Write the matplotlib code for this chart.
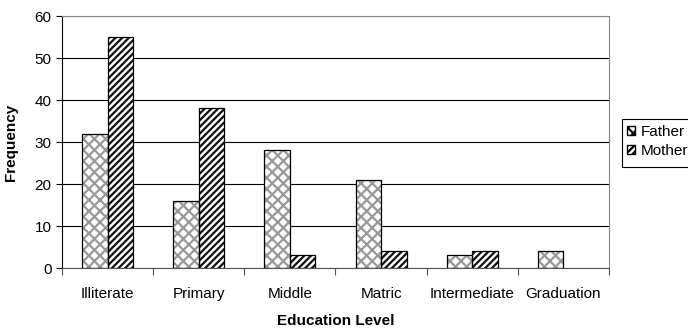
import matplotlib
matplotlib.use("Agg")
import matplotlib.pyplot as plt
import numpy as np
from matplotlib.patches import Patch, Rectangle

plt.rcParams['font.family'] = ['Liberation Sans', 'DejaVu Sans']
plt.rcParams['hatch.linewidth'] = 1.6

categories = ["Illiterate", "Primary", "Middle", "Matric", "Intermediate", "Graduation"]
father = [32, 16, 28, 21, 3, 4]
mother = [55, 38, 3, 4, 4, 0]
yticks = [0, 10, 20, 30, 40, 50, 60]

W, H = 688, 328
fig = plt.figure(figsize=(W/100, H/100), dpi=100)
ax = fig.add_axes([62/W, 1 - 268/H, (609-62)/W, (268-16)/H])

x = np.arange(len(categories))
w = 0.28


def draw_series(pos, values, hatch, hatch_col):
    for xi, v in zip(pos, values):
        if v <= 0:
            continue
        ax.bar(xi, v, w, color='white', edgecolor=hatch_col, hatch=hatch, linewidth=0, zorder=2)
        ax.bar(xi, v, w, fill=False, edgecolor='black', linewidth=0.9, zorder=3)


# Father: grey woven hatch; Mother: dense black diagonal stripes
draw_series(x - w/2, father, 'xxx', '#999999')
draw_series(x + w/2, mother, '/////', '#111111')

ax.set_xlim(-0.5, len(categories) - 0.5)
ax.set_ylim(0, 60)
ax.set_yticks(yticks)
ax.yaxis.grid(True, color='black', linewidth=0.8, zorder=0)
ax.set_axisbelow(True)

fs = 11
ax.set_xticks(x)
ax.set_xticklabels(categories, fontsize=fs)
ax.tick_params(axis='x', length=0, pad=14)
ax.set_xticks(np.arange(len(categories) + 1) - 0.5, minor=True)
ax.tick_params(axis='x', which='minor', length=5, width=0.8, color='#555555')
ax.tick_params(axis='y', labelsize=fs, length=4, width=0.8)

ax.spines['left'].set_color('black')
ax.spines['bottom'].set_color('#555555')
ax.spines['top'].set_color('#888888')
ax.spines['right'].set_color('#888888')

ax.set_ylabel("Frequency", fontsize=fs, fontweight='bold', labelpad=12)
ax.set_xlabel("Education Level", fontsize=fs, fontweight='bold', labelpad=9)

# Legend entries without their own frame; the box is drawn separately
handles = [Patch(facecolor='white', edgecolor='black', hatch='xxx', label='Father'),
           Patch(facecolor='white', edgecolor='black', hatch='/////', label='Mother')]
leg = fig.legend(handles=handles, loc='center left', bbox_to_anchor=(627/W, 1 - 141.5/H),
                 fontsize=fs, frameon=False,
                 handlelength=0.55, handleheight=0.55, handletextpad=0.35,
                 borderpad=0, labelspacing=0.3, borderaxespad=0)
fig.patches.append(Rectangle((622/W, 1 - 167/H), 80/W, 48/H, transform=fig.transFigure,
                             fill=False, edgecolor='black', linewidth=0.8))

fig.savefig("out.png", dpi=100)
